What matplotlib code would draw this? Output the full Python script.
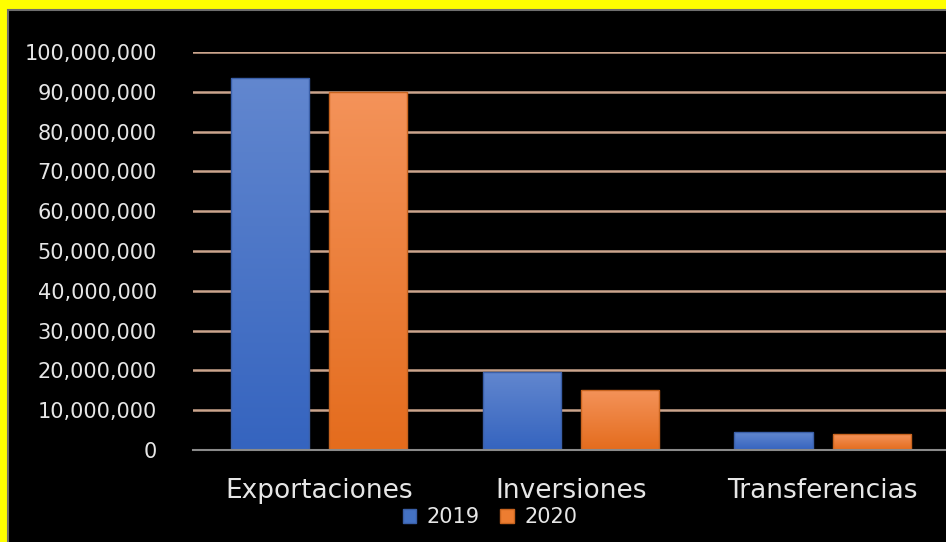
import numpy as np
import matplotlib.pyplot as plt
from matplotlib.patches import Rectangle
from matplotlib.ticker import FuncFormatter
from matplotlib.colors import LinearSegmentedColormap

categories = ['Exportaciones', 'Inversiones', 'Transferencias']
years = ['2019', '2020']
values_2019 = [93500000, 19700000, 4450000]
values_2020 = [90000000, 15100000, 3900000]

plt.rcParams['font.family'] = ['DejaVu Sans']

fig = plt.figure(figsize=(9.46, 5.42), dpi=100)
fig.patch.set_facecolor('#ffff00')
# black panel inside the yellow frame
fig.patches.append(Rectangle((8 / 946, -0.01), 1, 1.01 - 10 / 542, transform=fig.transFigure,
                             facecolor='black', edgecolor='#6e6e6e', linewidth=1.5, zorder=-5))

ax = fig.add_axes([193 / 946, 92 / 542, 753 / 946, 398 / 542])
ax.set_facecolor('black')

x = np.arange(len(categories))
width = 0.31
offset = 0.195

def gradient_bars(xs, vals, top_col, bot_col, edge):
    cmap = LinearSegmentedColormap.from_list('g', [bot_col, top_col])
    grad = np.linspace(0, 1, 256).reshape(-1, 1)
    for xi, v in zip(xs, vals):
        bar = ax.bar(xi, v, width, color='none', edgecolor=edge, linewidth=1, zorder=3)[0]
        im = ax.imshow(grad, cmap=cmap, aspect='auto', origin='lower',
                       extent=[xi - width / 2, xi + width / 2, 0, v], zorder=2)
        im.set_clip_path(bar)

gradient_bars(x - offset, values_2019, '#6287cf', '#3564bf', '#3a5fa8')
gradient_bars(x + offset, values_2020, '#f4935a', '#e46c1d', '#c8641f')

ax.set_xlim(-0.5, 2.49)
ax.set_ylim(0, 100000000)
ax.set_yticks(np.arange(0, 100000001, 10000000))
ax.yaxis.set_major_formatter(FuncFormatter(lambda v, p: f'{int(v):,}'))
ax.yaxis.grid(True, color='#cba48c', linewidth=1.8)
ax.set_axisbelow(True)
ax.set_xticks(x)
ax.set_xticklabels(categories)
ax.tick_params(axis='y', length=0, pad=26, colors='#e6e6e6', labelsize=15)
ax.tick_params(axis='x', length=0, pad=20, colors='#e6e6e6', labelsize=19)
for s in ['top', 'right', 'left']:
    ax.spines[s].set_visible(False)
ax.spines['bottom'].set_color('#8a8a8a')
ax.spines['bottom'].set_linewidth(1.5)
ax.spines['bottom'].set_zorder(4)

handles = [Rectangle((0, 0), 1, 1, facecolor='#4472c4', edgecolor='#3a5fa8'),
           Rectangle((0, 0), 1, 1, facecolor='#ed7d31', edgecolor='#c8641f')]
leg = fig.legend(handles, years, loc='center', bbox_to_anchor=(490 / 946, 25 / 542), ncol=2,
                 frameon=False, fontsize=15, handlelength=0.65, handleheight=0.65,
                 handletextpad=0.5, columnspacing=1.0, labelcolor='#e6e6e6')

fig.savefig('out.png', dpi=100, facecolor=fig.get_facecolor())
